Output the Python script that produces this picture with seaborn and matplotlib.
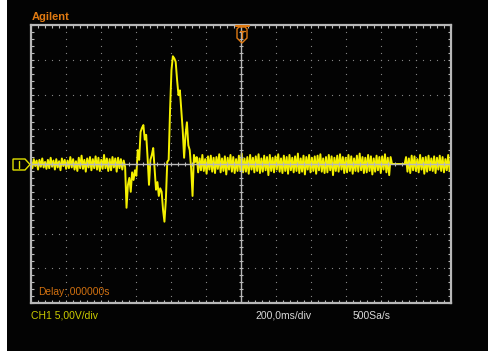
import numpy as np
import pandas as pd
import matplotlib
matplotlib.use("Agg")
import matplotlib.pyplot as plt
import seaborn as sns
from matplotlib.patches import Polygon, Rectangle
from matplotlib.lines import Line2D

# ---------------- data (volts, CH1 5 V/div, 200 ms/div, 12 divisions) ----------------
baseline_pre = [0.4, -0.6, 0.7, -0.3, 0.5, -0.8, 0.6, -0.4, 0.8, -0.5,
                0.3, -0.7, 0.6, -0.6, 0.9, -0.4, 0.5, -0.8, 0.7, -0.5,
                0.4, -0.9, 0.8, -0.3, 0.6, -0.7, 0.5, -0.6, 1.0, -0.5,
                0.7, -0.8, 0.4, -1.0, 0.9, -0.6, 1.2, -0.7, 0.6, -1.1,
                0.8, -0.5, 1.0, -0.9, 0.7, -0.6, 1.1, -0.8, 0.9, -1.0,
                0.6, -0.7, 1.3, -0.6, 0.8, -1.0, 0.7, -0.9, 1.0, -0.5,
                0.8, -1.1, 0.9, -0.6, 0.7, -0.8, 0.5, -0.4]
event = [-6.3, -3.0, -2.0, -4.0, -1.2, -2.3, -0.9, -1.7, 2.0, 0.6,
         4.6, 5.2, 5.6, 3.5, 4.2, 0.9, -3.0, 0.6, 1.3, 2.3,
         -0.6, -3.7, -2.6, -4.6, -3.5, -4.0, -6.6, -8.3, -5.2, 0.3,
         0.6, 7.8, 13.5, 15.5, 15.2, 14.7, 12.1, 9.9, 10.6, 7.8,
         4.9, 0.9, 4.2, 6.0, 2.7, 2.0, -0.6, -4.6, 1.3, 0.3]
baseline_mid = [1.0, -1.2, 0.8, -0.9, 1.3, -1.0, 0.7, -1.4, 1.1, -0.8,
                1.2, -1.1, 0.9, -1.3, 1.0, -0.7, 1.4, -1.2, 0.8, -1.0,
                1.1, -1.5, 0.9, -0.8, 1.3, -1.1, 1.0, -1.3, 0.7, -1.0,
                1.2, -0.9, 1.5, -1.2, 0.8, -1.1, 1.0, -1.4, 1.3, -0.8,
                0.9, -1.2, 1.1, -1.0, 1.4, -1.3, 0.8, -1.1, 1.2, -0.9,
                1.0, -1.6, 1.3, -1.0, 0.9, -1.2, 1.1, -0.8, 1.4, -1.1,
                0.8, -1.3, 1.2, -1.0, 1.0, -1.4, 1.3, -0.9, 0.9, -1.2,
                1.1, -1.0, 1.5, -1.3, 0.8, -1.1, 1.2, -1.5, 1.0, -0.8,
                1.3, -1.2, 0.9, -1.0, 1.1, -1.4, 1.2, -0.9, 1.4, -1.1,
                0.8, -1.3, 1.0, -1.2, 1.3, -0.9, 1.1, -1.6, 0.9, -1.0,
                1.2, -1.1, 1.4, -0.8, 1.0, -1.3, 0.9, -1.2, 1.3, -1.0,
                1.1, -1.4, 0.8, -1.0, 1.2, -1.1, 1.5, -0.9, 1.0, -1.3,
                0.9, -1.2, 1.3, -1.0, 1.1, -1.5, 0.8, -1.1, 1.2, -0.9,
                1.0, -1.3, 1.1, -0.8, 1.4, -1.2, 0.9, -1.6, 1.0]
flat_gap = [0.0, 0.0, 0.0, 0.0, 0.0, 0.0, 0.0, 0.0, 0.0, 0.0]
baseline_post = [1.0, -1.1, 0.8, -1.3, 1.2, -0.9, 1.1, -1.0, 0.7, -1.2,
                 1.3, -0.8, 0.9, -1.4, 1.0, -1.1, 1.2, -0.9, 0.8, -1.0,
                 1.1, -1.3, 0.9, -0.8, 1.2, -1.0, 1.0, -1.2, 0.7, -0.9,
                 1.3, -1.0, 0.6]

volts = baseline_pre + event + baseline_mid + flat_gap + baseline_post
time_span_ms = 2400
time_ms = np.linspace(0, time_span_ms, len(volts))
df = pd.DataFrame({"t": time_ms, "v": volts})

# ---------------- style ----------------
sns.set_style("dark")
plt.rcParams['font.family'] = ['Liberation Sans', 'DejaVu Sans']

W, H = 488, 351
fig = plt.figure(figsize=(W / 100, H / 100), dpi=100, facecolor="#030303")

def fx(px):
    return px / W

def fy(py):
    return 1 - py / H

# white strip at the left edge
fig.add_artist(Rectangle((0, 0), fx(7), 1, transform=fig.transFigure,
                         facecolor="white", edgecolor="none", zorder=0))

ax = fig.add_axes([fx(31), fy(303), fx(451) - fx(31), fy(25) - fy(303)])
ax.set_facecolor("#030303")

TRACE = "#f4f000"
GRID = "#8a8a8a"
FRAME = "#b8b8b8"

sns.lineplot(data=df, x="t", y="v", ax=ax, color=TRACE, linewidth=1.4,
             sort=False, estimator=None, zorder=2)

ax.set_xlim(0, time_span_ms)
ax.set_ylim(-20, 20)
ax.set_xlabel("")
ax.set_ylabel("")

# dotted graticule
for k in range(1, 12):
    if k == 6:
        continue
    xs = np.full(41, k * 200.0)
    ys = np.arange(-20, 20.01, 1.0)
    ax.scatter(xs, ys, s=0.8, color=GRID, linewidths=0, zorder=1)
for yv in [-15, -10, -5, 5, 10, 15]:
    xs = np.arange(0, 2400.01, 40.0)
    ax.scatter(xs, np.full(len(xs), yv), s=0.8, color=GRID, linewidths=0, zorder=1)

# centre cross with ticks
ax.axhline(0, color=FRAME, lw=1.0, zorder=3)
ax.axvline(1200, color=FRAME, lw=1.0, zorder=3)
cx = np.arange(0, 2400.01, 40.0)
ax.plot(cx, np.zeros(len(cx)), ls="none", marker="|", ms=3.5, mew=0.8,
        color=FRAME, zorder=3)
cy = np.arange(-20, 20.01, 1.0)
ax.plot(np.full(len(cy), 1200.0), cy, ls="none", marker="_", ms=3.5, mew=0.8,
        color=FRAME, zorder=3)

# frame ticks
ax.set_xticks(np.arange(0, 2400.01, 200.0))
ax.set_yticks(np.arange(-20, 20.01, 5.0))
ax.set_xticks(np.arange(0, 2400.01, 40.0), minor=True)
ax.set_yticks(np.arange(-20, 20.01, 1.0), minor=True)
ax.tick_params(which="both", direction="in", top=True, right=True,
               bottom=True, left=True, length=2.5, width=0.8, color=FRAME,
               labelbottom=False, labelleft=False)
ax.grid(False)
for sp in ax.spines.values():
    sp.set_color(FRAME)
    sp.set_linewidth(1.6)

# ground marker (channel 1)
gpts = [(13, 159), (25, 159), (30, 164.5), (25, 170), (13, 170)]
fig.add_artist(Polygon([(fx(a), fy(b)) for a, b in gpts], closed=True,
                       transform=fig.transFigure, fill=False,
                       edgecolor="#e0e000", lw=1.0))
fig.add_artist(Line2D([fx(19), fx(19)], [fy(161), fy(168)],
                      transform=fig.transFigure, color="#e0e000", lw=1.0))

# trigger marker
ORANGE = "#e07a12"
tpts = [(237, 29), (239, 27), (245, 27), (247, 29), (247, 38), (242, 43), (237, 38)]
fig.add_artist(Polygon([(fx(a), fy(b)) for a, b in tpts], closed=True,
                       transform=fig.transFigure, fill=False,
                       edgecolor=ORANGE, lw=1.0, zorder=5))
fig.add_artist(Line2D([fx(235.5), fx(248.5)], [fy(25.5), fy(25.5)],
                      transform=fig.transFigure, color=ORANGE, lw=1.5, zorder=5))
fig.add_artist(Line2D([fx(239.5), fx(244.5)], [fy(31), fy(31)],
                      transform=fig.transFigure, color=ORANGE, lw=1.0, zorder=5))
fig.add_artist(Line2D([fx(242), fx(242)], [fy(31), fy(38)],
                      transform=fig.transFigure, color=ORANGE, lw=1.0, zorder=5))

# texts
fig.text(fx(32), fy(17), "Agilent", color=ORANGE, fontsize=8,
         fontweight="bold", va="center", ha="left")
fig.text(fx(38), fy(292), "Delay:,000000s", color="#d07010", fontsize=7.4,
         va="center", ha="left")
fig.text(fx(31), fy(316), "CH1 5,00V/div", color="#cccc00", fontsize=7.5,
         va="center", ha="left")
fig.text(fx(255), fy(316), "200,0ms/div", color="#d8d8d8", fontsize=7.5,
         va="center", ha="left")
fig.text(fx(353), fy(316), "500Sa/s", color="#d8d8d8", fontsize=7.5,
         va="center", ha="left")

fig.savefig("out.png", dpi=100, facecolor=fig.get_facecolor())
